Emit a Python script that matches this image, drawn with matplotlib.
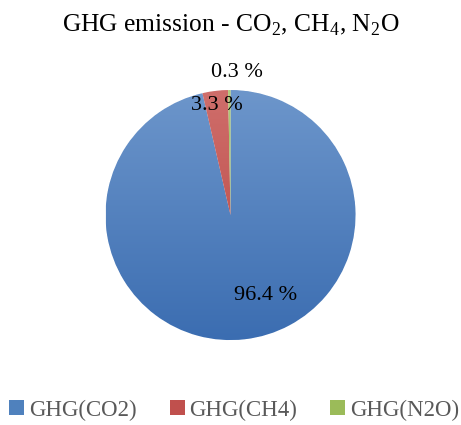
import matplotlib.pyplot as plt
import numpy as np
from matplotlib.colors import LinearSegmentedColormap

# emission shares per gas (%)
gases = ["GHG(CO2)", "GHG(CH4)", "GHG(N2O)"]
shares = [96.4, 3.3, 0.3]

# base colour with a lighter top and darker bottom tone for the gradient fill
colors_top = ["#6d96cb", "#cf6e6b", "#b0cc79"]
colors_bot = ["#3b6db1", "#b8423f", "#8cae4a"]
colors_mid = ["#4f81bd", "#c0504d", "#9bbb59"]

# label offsets in units of the pie radius
label_pos = [(0.28, -0.64), (-0.11, 0.88), (0.05, 1.14)]

plt.rcParams["font.family"] = ["Liberation Serif", "DejaVu Serif"]
plt.rcParams["mathtext.fontset"] = "custom"
plt.rcParams["mathtext.rm"] = "Liberation Serif"

fig = plt.figure(figsize=(4.61, 4.25), dpi=100)
ax = fig.add_axes([0.0, 0.194, 1.0, 0.6])
half_w = 461 / (0.6 * 425 / 2.04) / 2

wedges, _ = ax.pie(shares, colors=colors_mid, startangle=90, counterclock=False,
                   wedgeprops=dict(linewidth=0.6, edgecolor="white"))

# vertical gradient clipped to each wedge
for w, ct, cb in zip(wedges, colors_top, colors_bot):
    cmap = LinearSegmentedColormap.from_list("g", [cb, ct])
    grad = np.linspace(0, 1, 256).reshape(-1, 1)
    im = ax.imshow(grad, cmap=cmap, origin="lower", extent=(-1, 1, -1, 1),
                   aspect="auto", zorder=w.get_zorder() + 0.1)
    im.set_clip_path(w)

for val, (dx, dy) in zip(shares, label_pos):
    ax.text(dx, dy, f"{val} %", ha="center", va="center", fontsize=16,
            color="black", zorder=5)

ax.set_aspect("equal")
ax.set_xlim(-half_w, half_w)
ax.set_ylim(-1.02, 1.02)

fig.text(0.5, 0.94, r"GHG emission - CO$_2$, CH$_4$, N$_2$O", ha="center",
         va="center", fontsize=18.4)

handles = [plt.Rectangle((0, 0), 1, 1, facecolor=c) for c in colors_mid]
fig.legend(handles, gases, loc="center", bbox_to_anchor=(0.508, 0.035), ncol=3,
           frameon=False, fontsize=16.5, handlelength=0.65, handleheight=0.65,
           handletextpad=0.2, columnspacing=1.45, labelcolor="#595959")

fig.savefig("out.png", dpi=100)
